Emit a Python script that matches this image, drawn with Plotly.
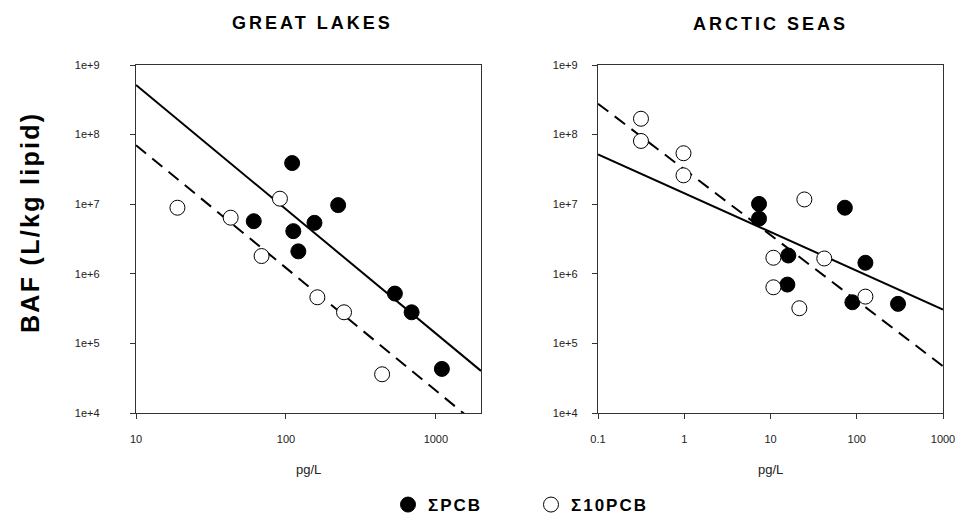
import math
import plotly.graph_objects as go

# ---------------- data ----------------
# Great Lakes
gl_pcb_x = [110, 223, 61, 112, 155, 121, 533, 689, 1097]
gl_pcb_y = [3.9e7, 9.7e6, 5.7e6, 4.1e6, 5.4e6, 2.1e6, 5.2e5, 2.8e5, 4.3e4]
gl_10pcb_x = [18.9, 42.8, 68.8, 91.2, 162, 244, 438]
gl_10pcb_y = [8.9e6, 6.4e6, 1.8e6, 1.2e7, 4.6e5, 2.8e5, 3.6e4]
# regression lines: log10(BAF) = intercept + slope * log10(pg/L)
gl_pcb_fit = {"intercept": 10.497, "slope": -1.785}
gl_10pcb_fit = {"intercept": 9.611, "slope": -1.763}
gl_x_extent = [10, 2000]

# Arctic Seas
ar_pcb_x = [7.36, 7.36, 16.1, 15.7, 72.8, 126, 89, 301]
ar_pcb_y = [1.01e7, 6.2e6, 1.83e6, 7.0e5, 8.9e6, 1.44e6, 3.9e5, 3.7e5]
ar_10pcb_x = [0.315, 0.315, 0.98, 0.98, 24.7, 10.8, 10.8, 21.6, 42, 126]
ar_10pcb_y = [1.69e8, 8.1e7, 5.4e7, 2.6e7, 1.17e7, 1.7e6, 6.4e5, 3.2e5, 1.66e6, 4.7e5]
ar_pcb_fit = {"intercept": 7.158, "slope": -0.557}
ar_10pcb_fit = {"intercept": 7.501, "slope": -0.943}
ar_x_extent = [0.1, 1000]

y_tickvals = [1e4, 1e5, 1e6, 1e7, 1e8, 1e9]
y_ticktext = ["1e+4", "1e+5", "1e+6", "1e+7", "1e+8", "1e+9"]
gl_x_tickvals = [10, 100, 1000]
gl_x_ticktext = ["10", "100", "1000"]
ar_x_tickvals = [0.1, 1, 10, 100, 1000]
ar_x_ticktext = ["0.1", "1", "10", "100", "1000"]

titles = ["GREAT LAKES", "ARCTIC SEAS"]
legend_names = ["\u03a3PCB", "\u03a310PCB"]
y_title = "BAF (L/kg lipid)"
x_title = "pg/L"


def fit_line(fit, xs):
    return [10 ** (fit["intercept"] + fit["slope"] * math.log10(x)) for x in xs]


def spaced(text, px):
    return '<span style="letter-spacing:%spx">%s</span>' % (px, text)


FONT = "Liberation Sans, Arial, sans-serif"
fig = go.Figure()

panels = [
    ("x", "y", gl_pcb_x, gl_pcb_y, gl_10pcb_x, gl_10pcb_y, gl_pcb_fit, gl_10pcb_fit, gl_x_extent, True),
    ("x2", "y2", ar_pcb_x, ar_pcb_y, ar_10pcb_x, ar_10pcb_y, ar_pcb_fit, ar_10pcb_fit, ar_x_extent, False),
]
for xa, ya, px, py, ox, oy, pf, of, ext, show in panels:
    fig.add_trace(go.Scatter(x=ext, y=fit_line(pf, ext), mode="lines", xaxis=xa, yaxis=ya,
                             line=dict(color="black", width=2), showlegend=False, hoverinfo="skip"))
    fig.add_trace(go.Scatter(x=ext, y=fit_line(of, ext), mode="lines", xaxis=xa, yaxis=ya,
                             line=dict(color="black", width=2, dash="13px,8px"), showlegend=False,
                             hoverinfo="skip"))
    fig.add_trace(go.Scatter(x=px, y=py, mode="markers", xaxis=xa, yaxis=ya,
                             name=spaced(legend_names[0], 2),
                             marker=dict(symbol="circle", size=15, color="black",
                                         line=dict(color="black", width=1)),
                             showlegend=show, legendrank=1))
    fig.add_trace(go.Scatter(x=ox, y=oy, mode="markers", xaxis=xa, yaxis=ya,
                             name=spaced(legend_names[1], 2),
                             marker=dict(symbol="circle", size=15, color="white",
                                         line=dict(color="black", width=1)),
                             showlegend=show, legendrank=2))

W, H = 958, 523
left_dom = [136 / W, 481 / W]
right_dom = [598 / W, 943 / W]
y_dom = [1 - 413 / H, 1 - 65 / H]

axis_common = dict(type="log", showgrid=False, zeroline=False, showline=True, mirror=True,
                   linecolor="#333", linewidth=1.3, ticks="outside", ticklen=5, tickcolor="#333",
                   automargin=False,
                   tickfont=dict(family=FONT, size=11, color="#222"))

fig.update_layout(
    width=W, height=H,
    margin=dict(l=0, r=0, t=0, b=0, autoexpand=False),
    paper_bgcolor="white", plot_bgcolor="white",
    xaxis=dict(domain=left_dom, anchor="y", range=[1, math.log10(2000)],
               tickvals=gl_x_tickvals, ticktext=gl_x_ticktext, ticklabelstandoff=11, **axis_common),
    yaxis=dict(domain=y_dom, anchor="x", range=[4, 9],
               tickvals=y_tickvals, ticktext=y_ticktext, ticklabelstandoff=28, **axis_common),
    xaxis2=dict(domain=right_dom, anchor="y2", range=[-1, 3],
                tickvals=ar_x_tickvals, ticktext=ar_x_ticktext, ticklabelstandoff=11, **axis_common),
    yaxis2=dict(domain=y_dom, anchor="x2", range=[4, 9],
                tickvals=y_tickvals, ticktext=y_ticktext, ticklabelstandoff=12, **axis_common),
    legend=dict(orientation="h", x=388 / W, xanchor="left", y=1 - 505 / H, yanchor="middle",
                font=dict(family=FONT, size=17, color="black", weight="bold"),
                entrywidth=98, entrywidthmode="pixels", bgcolor="rgba(0,0,0,0)"),
    showlegend=True,
)

ann_common = dict(xref="paper", yref="paper", showarrow=False, xanchor="center", yanchor="middle")
annotations = [
    dict(text="<b>%s</b>" % spaced(titles[0], 3), x=(sum(left_dom) / 2) + 4 / W, y=1 - 23 / H,
         font=dict(family=FONT, size=18, color="black"), **ann_common),
    dict(text="<b>%s</b>" % spaced(titles[1], 3), x=sum(right_dom) / 2, y=1 - 24 / H,
         font=dict(family=FONT, size=18, color="black"), **ann_common),
    dict(text=x_title, x=sum(left_dom) / 2, y=1 - 469 / H,
         font=dict(family=FONT, size=13, color="#222"), **ann_common),
    dict(text=x_title, x=sum(right_dom) / 2, y=1 - 469 / H,
         font=dict(family=FONT, size=13, color="#222"), **ann_common),
    dict(text="<b>%s</b>" % spaced(y_title, 2.3), x=30 / W, y=1 - 222 / H, textangle=-90,
         font=dict(family=FONT, size=25, color="black"), **ann_common),
]
fig.update_layout(annotations=annotations)

fig.write_html("out.html", config={"displayModeBar": False},
               post_script="document.body.style.margin='0px';")
